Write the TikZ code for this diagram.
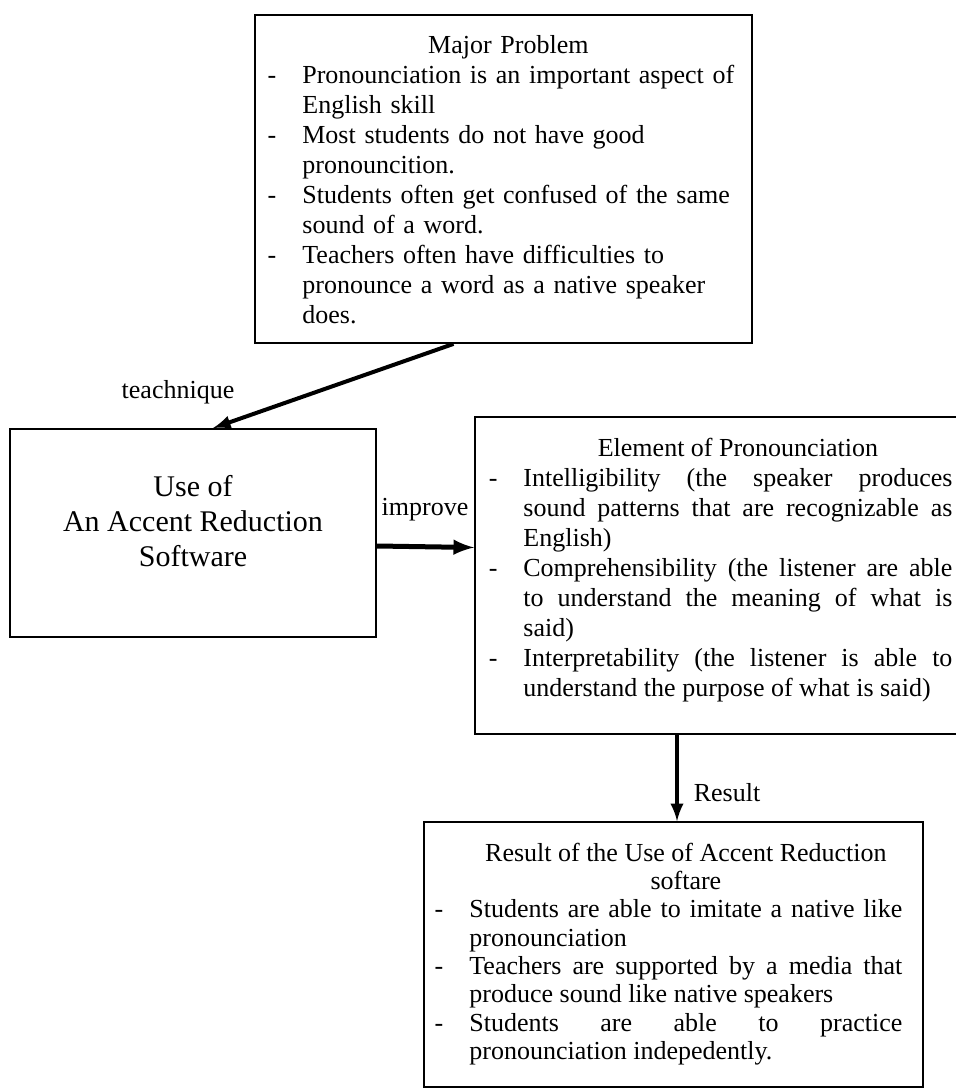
\documentclass[tikz,border=0pt]{standalone}
\usepackage{fontspec}
\setmainfont{Liberation Serif}
\usetikzlibrary{arrows, positioning}
\hbadness=10000
\newcommand{\dashitem}{\par\noindent\llap{-\hspace{13pt}}}
\newcommand{\boxtitle}[1]{{\centering #1\par}}
\newcommand{\justifyon}{\leftskip=0pt\rightskip=0pt\spaceskip=0pt\xspaceskip=0pt\parfillskip=0pt plus 1fil\relax}

\begin{document}
\begin{tikzpicture}[x=0.5pt, y=-0.5pt,
    panel/.style={draw, rectangle, line width=0.9pt, inner sep=0pt},
    body/.style={inner sep=0pt, anchor=north west, font=\fontsize{13}{15}\selectfont},
    tag/.style={inner sep=0pt, font=\fontsize{13}{15}\selectfont},
    flow/.style={-latex, line width=2pt}]
            \useasboundingbox (0,0) rectangle (956,1091);
            \clip (0,0) rectangle (956,1091);
            % the four boxes
            \node[panel, minimum width=248.5pt, minimum height=164pt] (prob) at (503.5,179) {};
            \node[panel, minimum width=183pt, minimum height=104pt] (use) at (193,533) {};
            \node[panel, minimum width=245pt, minimum height=158.5pt] (elem) at (720,575.5) {};
            \node[panel, minimum width=249.5pt, minimum height=132.5pt] (res) at (673.5,954.5) {};

            \node[body, text width=224pt] (probtext) at (302,35.5) {\raggedright
                \boxtitle{\hspace*{-18pt}Major Problem}
                \dashitem Pronounciation is an important aspect of\\ English skill
                \dashitem Most students do not have good\\ pronouncition.
                \dashitem Students often get confused of the same\\ sound of a word.
                \dashitem Teachers often have difficulties to\\ pronounce a word as a native speaker\\ does.};
            \node[tag, align=center, anchor=north, font=\fontsize{15}{17.5}\selectfont] (usetext) at (193,474.5)
                {Use of\\ An Accent Reduction\\ Software};
            \node[body, text width=214.5pt, align=justify] (elemtext) at (523,437.5) {
                \boxtitle{Element of Pronounciation}\justifyon
                \dashitem Intelligibility (the speaker produces \linebreak sound patterns that are recognizable as \linebreak English)
                \dashitem Comprehensibility (the listener are able \linebreak to understand the meaning of what is \linebreak said)
                \dashitem Interpretability (the listener is able to \linebreak understand the purpose of what is said)};
            \node[body, text width=216.5pt, align=justify, font=\fontsize{13}{14.15}\selectfont] (restext) at (469,842.5) {
                \boxtitle{Result of the Use of Accent Reduction\\ softare}\justifyon
                \dashitem Students are able to imitate a native like \linebreak pronounciation
                \dashitem Teachers are supported by a media that \linebreak produce sound like native speakers
                \dashitem Students are able to practice \linebreak pronounciation indepedently.};

            % connectors
            \draw[flow] ([xshift=-25pt]prob.south) -- ([xshift=10pt]use.north);
            \draw[flow, line width=2.5pt] ([yshift=-6.5pt]use.east) -- ([yshift=14pt]elem.west);
            \draw[flow] ([xshift=-21.5pt]elem.south) -- ([xshift=-21.5pt]elem.south |- res.north);

            \node[tag] (techlbl) at (178,392) {teachnique};
            \node[tag] (improvelbl) at (425,510) {improve};
            \node[tag] (resultlbl) at (727,793) {Result};
        \end{tikzpicture}
\end{document}
